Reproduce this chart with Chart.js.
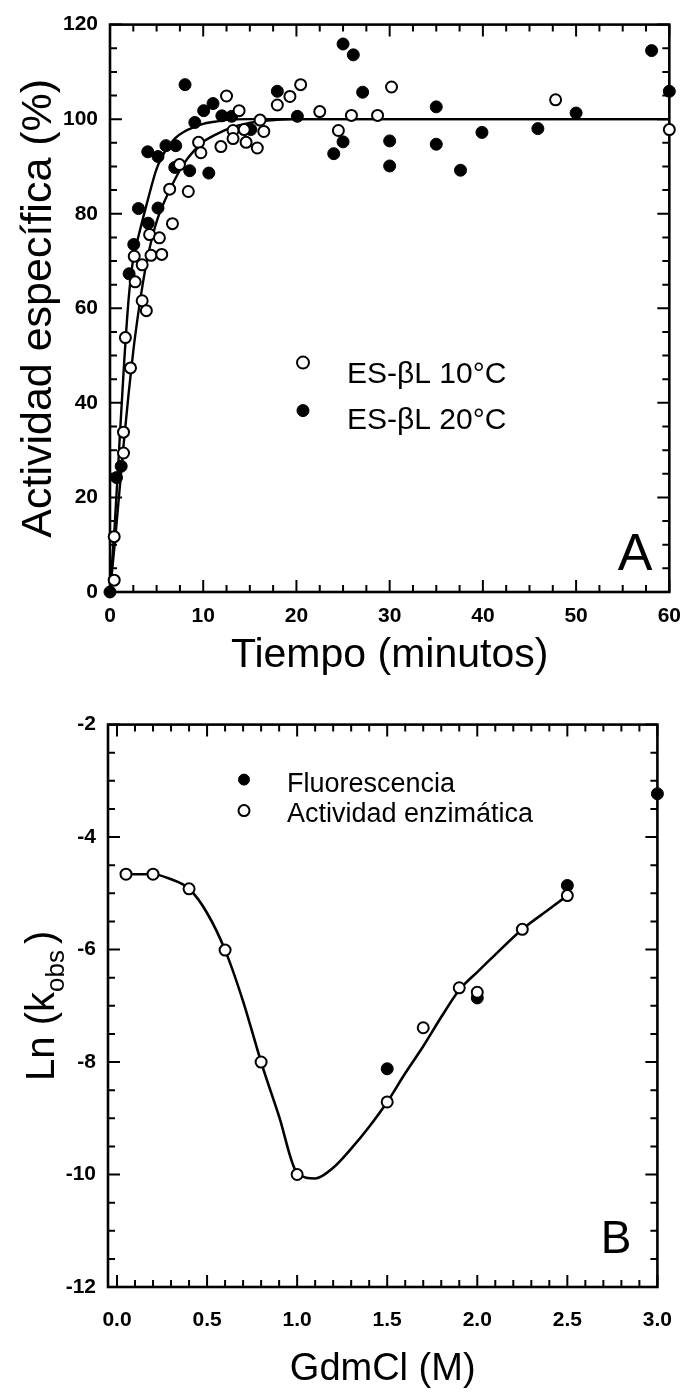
<!DOCTYPE html>
<html>
<head>
<meta charset="utf-8">
<script src="https://cdn.jsdelivr.net/npm/chart.js@4/dist/chart.umd.min.js"></script>
<style>
  html, body { margin: 0; padding: 0; background: #fff; }
  #wrap { position: relative; width: 693px; height: 1399px; }
  canvas { position: absolute; left: 0; }
  #chartA { top: 0; }
  #chartB { top: 700px; }
</style>
</head>
<body>
<div id="wrap">
  <canvas id="chartA" width="693" height="700"></canvas>
  <canvas id="chartB" width="693" height="699"></canvas>
</div>
<script>
// ---------- Panel A: activity recovery vs time ----------
const timeTicks = [0, 10, 20, 30, 40, 50, 60];
const activityTicks = [0, 20, 40, 60, 80, 100, 120];

// ES-βL 10 °C  [minutes, % activity]
const open10C = [
  [0.45, 2.5], [0.45, 11.7], [1.45, 29.4], [1.45, 33.8], [1.65, 53.8], [2.2, 47.4],
  [2.7, 65.6], [2.6, 71.0], [3.45, 69.2], [3.45, 61.6], [3.9, 59.5], [4.25, 75.6],
  [4.4, 71.2], [5.3, 74.9], [5.55, 71.4], [6.7, 77.9], [6.4, 85.2], [7.45, 90.4],
  [8.4, 84.7], [9.5, 95.1], [9.75, 92.9], [11.9, 94.2], [12.5, 104.9], [13.2, 97.6],
  [13.2, 95.9], [13.85, 101.8], [14.4, 97.8], [14.6, 95.1], [15.8, 93.9], [16.1, 99.8],
  [16.5, 97.4], [17.95, 103.0], [19.3, 104.8], [20.45, 107.3], [22.5, 101.6], [24.5, 97.6],
  [25.9, 100.8], [28.7, 100.8], [30.2, 106.8], [47.8, 104.1], [60, 97.8]
];

// ES-βL 20 °C  [minutes, % activity]
const filled20C = [
  [0, 0], [0.7, 24.2], [1.2, 26.6], [2.05, 67.3], [2.55, 73.5], [3.05, 81.1], [4.1, 78.0],
  [4.05, 93.1], [5.15, 92.1], [5.15, 81.2], [6.0, 94.4], [7.05, 94.4], [6.95, 89.8],
  [8.05, 107.3], [8.55, 89.1], [9.1, 99.3], [10.05, 101.8], [10.6, 88.6], [11.05, 103.3],
  [12.0, 100.7], [13.05, 100.6], [15.1, 97.8], [17.95, 105.9], [20.1, 100.6], [24.0, 92.7],
  [25.0, 115.9], [25.0, 95.2], [26.1, 113.6], [27.1, 105.7], [30.0, 95.4], [30.0, 90.1],
  [35.0, 102.6], [35.0, 94.7], [37.6, 89.2], [39.9, 97.2], [45.9, 98.0], [50.0, 101.3],
  [58.1, 114.5], [60.0, 105.9]
];

// fitted recovery curves
const fit10C = [
  [0, 0], [0.5, 10], [1, 21], [1.5, 32], [2, 42], [2.5, 51], [3, 58.5], [3.5, 65],
  [4, 70.5], [5, 78.3], [6, 83.3], [7, 87.4], [8, 90.8], [9, 93.3], [10, 95.2],
  [11.5, 96.9], [13, 98.2], [14.5, 99], [16.5, 99.6], [18.5, 99.9], [20, 100], [60, 100]
];
const fit20C = [
  [0, 0], [0.5, 14], [1, 31], [1.5, 48], [2, 62], [2.5, 70.5], [3, 74.8], [4, 82.5],
  [5, 89.5], [6, 93.5], [7, 96], [8, 97.4], [9, 98.3], [10, 99], [11, 99.4], [12, 99.7],
  [13, 99.9], [15, 100], [60, 100]
];

// ---------- Panel B: ln(k_obs) vs GdmCl ----------
const gdmTicks = [0, 0.5, 1.0, 1.5, 2.0, 2.5, 3.0];
const lnkTicks = [-12, -10, -8, -6, -4, -2];

const gdmFluorescencia = [1.5, 2.0, 2.5, 3.0];
const lnkFluorescencia = [-8.12, -6.86, -4.86, -3.23];

const gdmActividad = [0.05, 0.2, 0.4, 0.6, 0.8, 1.0, 1.5, 1.7, 1.9, 2.0, 2.25, 2.5];
const lnkActividad = [-4.66, -4.66, -4.92, -6.01, -8.0, -10.0, -8.71, -7.39, -6.68, -6.76, -5.64, -5.04];

const gdmFit = [0.05, 0.2, 0.3, 0.4, 0.5, 0.6, 0.7, 0.8, 0.9, 1.0, 1.1, 1.2, 1.3, 1.4,
                1.5, 1.6, 1.7, 1.8, 1.9, 2.0, 2.1, 2.25, 2.4, 2.5];
const lnkFit = [-4.66, -4.66, -4.75, -4.92, -5.35, -6.01, -6.92, -8.0, -8.97, -9.97, -10.07, -9.88,
                -9.54, -9.15, -8.71, -8.2, -7.72, -7.2, -6.72, -6.4, -6.09, -5.64, -5.28, -5.04];

// ---------- helpers ----------
const FONT = "'Liberation Sans', Arial, Helvetica, sans-serif";
const pairs = arr => arr.map(([x, y]) => ({ x, y }));
const zip = (xs, ys) => xs.map((x, i) => ({ x, y: ys[i] }));

// box with inward ticks on all four sides
const frameTicks = {
  id: 'frameTicks',
  beforeDatasetsDraw(chart, args, o) {
    const { ctx, chartArea: a, scales: { x, y } } = chart;
    const each = (scale, minor, major, fn) => {
      const lo = Math.ceil(scale.min / minor - 1e-6), hi = Math.floor(scale.max / minor + 1e-6);
      for (let i = lo; i <= hi; i++) {
        const v = i * minor, r = v / major;
        fn(scale.getPixelForValue(v), Math.abs(r - Math.round(r)) < 1e-6 ? o.majorLen : o.minorLen);
      }
    };
    ctx.save();
    ctx.strokeStyle = '#000';
    ctx.lineWidth = o.tickWidth;
    ctx.beginPath();
    each(x, o.xMinor, o.xMajor, (p, len) => {
      ctx.moveTo(p, a.bottom); ctx.lineTo(p, a.bottom - len);
      ctx.moveTo(p, a.top); ctx.lineTo(p, a.top + len);
    });
    each(y, o.yMinor, o.yMajor, (p, len) => {
      ctx.moveTo(a.left, p); ctx.lineTo(a.left + len, p);
      ctx.moveTo(a.right, p); ctx.lineTo(a.right - len, p);
    });
    ctx.stroke();
    ctx.lineWidth = o.frameWidth;
    ctx.strokeRect(a.left, a.top, a.right - a.left, a.bottom - a.top);
    ctx.restore();
  }
};

// in-plot legend, panel letter and an optional y title with subscript
const panelText = {
  id: 'panelText',
  afterDatasetsDraw(chart, args, o) {
    const { ctx, chartArea: a } = chart;
    ctx.save();
    ctx.fillStyle = '#000';
    ctx.textAlign = 'left';
    ctx.textBaseline = 'alphabetic';
    o.legend.forEach(item => {
      const ds = chart.data.datasets[item.dataset];
      const mx = a.left + item.mx, my = a.top + item.my;
      ctx.beginPath();
      ctx.arc(mx, my, item.r, 0, Math.PI * 2);
      ctx.fillStyle = ds.pointBackgroundColor;
      ctx.fill();
      ctx.lineWidth = ds.pointBorderWidth;
      ctx.strokeStyle = '#000';
      ctx.stroke();
      ctx.fillStyle = '#000';
      ctx.font = o.legendFont;
      ctx.fillText(ds.label, a.left + item.tx, a.top + item.ty);
    });
    ctx.font = o.letterFont;
    ctx.textAlign = 'right';
    ctx.fillText(o.letter, a.right - o.letterDx, a.bottom - o.letterDy);

    if (o.yTitle) {
      const t = o.yTitle;
      const cy = (a.top + a.bottom) / 2;
      ctx.translate(t.x, cy);
      ctx.rotate(-Math.PI / 2);
      ctx.textBaseline = 'alphabetic';
      ctx.textAlign = 'left';
      ctx.font = t.font;
      const w1 = ctx.measureText(t.main).width;
      const w3 = ctx.measureText(t.close).width;
      ctx.font = t.subFont;
      const w2 = ctx.measureText(t.sub).width;
      const total = w1 + w2 + t.gap + w3;
      let px = -total / 2;
      ctx.font = t.font;
      ctx.fillText(t.main, px, t.base);
      px += w1;
      ctx.font = t.subFont;
      ctx.fillText(t.sub, px, t.base + t.subDrop);
      px += w2 + t.gap;
      ctx.font = t.font;
      ctx.fillText(t.close, px, t.base);
    }
    ctx.restore();
  }
};

Chart.defaults.font.family = FONT;
Chart.defaults.color = '#000';

const tickFont = { family: FONT, size: 21, weight: 'bold' };

// ---------- Chart A ----------
new Chart(document.getElementById('chartA'), {
  type: 'scatter',
  data: {
    datasets: [
      { label: 'ES-βL 10°C', data: pairs(open10C), pointRadius: 5.5, pointBackgroundColor: '#fff',
        pointBorderColor: '#000', pointBorderWidth: 2, clip: false },
      { label: 'ES-βL 20°C', data: pairs(filled20C), pointRadius: 6, pointBackgroundColor: '#000',
        pointBorderColor: '#000', pointBorderWidth: 1, clip: false },
      { label: 'ajuste 10°C', data: pairs(fit10C), showLine: true, pointRadius: 0, borderColor: '#000',
        borderWidth: 2.4, cubicInterpolationMode: 'monotone', fill: false },
      { label: 'ajuste 20°C', data: pairs(fit20C), showLine: true, pointRadius: 0, borderColor: '#000',
        borderWidth: 2.4, cubicInterpolationMode: 'monotone', fill: false }
    ]
  },
  options: {
    responsive: false,
    animation: false,
    events: [],
    layout: { padding: { left: 0, right: 17, top: 20, bottom: 0 } },
    scales: {
      x: {
        type: 'linear', min: 0, max: 60,
        afterFit: s => { s.height = 108; },
        afterBuildTicks: s => { s.ticks = timeTicks.map(v => ({ value: v })); },
        grid: { display: false, drawTicks: false },
        border: { display: false },
        ticks: { font: tickFont, color: '#000', padding: 12, maxRotation: 0, autoSkip: false },
        title: { display: true, text: 'Tiempo (minutos)', color: '#000',
                 font: { family: FONT, size: 41 }, padding: { top: 0, bottom: 20 } }
      },
      y: {
        type: 'linear', min: 0, max: 120,
        afterFit: s => { s.width = 110; },
        afterBuildTicks: s => { s.ticks = activityTicks.map(v => ({ value: v })); },
        grid: { display: false, drawTicks: false },
        border: { display: false },
        ticks: { font: tickFont, color: '#000', padding: 12, autoSkip: false },
        title: { display: true, text: 'Actividad específica (%)', color: '#000',
                 font: { family: FONT, size: 43 }, padding: { top: 13, bottom: 0 } }
      }
    },
    plugins: {
      legend: { display: false },
      tooltip: { enabled: false },
      frameTicks: { xMinor: 2.5, xMajor: 10, yMinor: 5, yMajor: 20,
                    majorLen: 12, minorLen: 7, tickWidth: 2, frameWidth: 2.6 },
      panelText: {
        legend: [
          { dataset: 0, mx: 193, my: 338, r: 6, tx: 237, ty: 358 },
          { dataset: 1, mx: 193, my: 386, r: 6, tx: 237, ty: 404 }
        ],
        legendFont: `30px ${FONT}`,
        letter: 'A', letterFont: `52px ${FONT}`, letterDx: 17, letterDy: 22
      }
    }
  },
  plugins: [frameTicks, panelText]
});

// ---------- Chart B ----------
new Chart(document.getElementById('chartB'), {
  type: 'scatter',
  data: {
    datasets: [
      { label: 'Actividad enzimática', data: zip(gdmActividad, lnkActividad), pointRadius: 5.5,
        pointBackgroundColor: '#fff', pointBorderColor: '#000', pointBorderWidth: 2, clip: false },
      { label: 'Fluorescencia', data: zip(gdmFluorescencia, lnkFluorescencia), pointRadius: 6,
        pointBackgroundColor: '#000', pointBorderColor: '#000', pointBorderWidth: 1, clip: false },
      { label: 'ajuste', data: zip(gdmFit, lnkFit), showLine: true, pointRadius: 0, borderColor: '#000',
        borderWidth: 2.6, cubicInterpolationMode: 'monotone', fill: false }
    ]
  },
  options: {
    responsive: false,
    animation: false,
    events: [],
    layout: { padding: { left: 0, right: 17, top: 15, bottom: 0 } },
    scales: {
      x: {
        type: 'linear', min: -0.05, max: 3.0,
        afterFit: s => { s.height = 112; },
        afterBuildTicks: s => { s.ticks = gdmTicks.map(v => ({ value: v })); },
        grid: { display: false, drawTicks: false },
        border: { display: false },
        ticks: { font: tickFont, color: '#000', padding: 21, maxRotation: 0, autoSkip: false,
                 callback: v => Number(v).toFixed(1) },
        title: { display: true, text: 'GdmCl (M)', color: '#000',
                 font: { family: FONT, size: 38 }, padding: { top: 0, bottom: 7 } }
      },
      y: {
        type: 'linear', min: -12, max: -2,
        afterFit: s => { s.width = 108; },
        afterBuildTicks: s => { s.ticks = lnkTicks.map(v => ({ value: v })); },
        grid: { display: false, drawTicks: false },
        border: { display: false },
        ticks: { font: tickFont, color: '#000', padding: 12, autoSkip: false },
        title: { display: false }
      }
    },
    plugins: {
      legend: { display: false },
      tooltip: { enabled: false },
      frameTicks: { xMinor: 0.1, xMajor: 0.5, yMinor: 0.5, yMajor: 2,
                    majorLen: 12, minorLen: 7, tickWidth: 2, frameWidth: 2.6 },
      panelText: {
        legend: [
          { dataset: 1, mx: 136, my: 55, r: 5.5, tx: 179, ty: 67 },
          { dataset: 0, mx: 136, my: 86, r: 5.5, tx: 179, ty: 97 }
        ],
        legendFont: `27px ${FONT}`,
        letter: 'B', letterFont: `46px ${FONT}`, letterDx: 26, letterDy: 34,
        yTitle: { x: 40, base: 14, main: 'Ln (k', sub: 'obs', close: ')', gap: 6,
                  font: `40px ${FONT}`, subFont: `26px ${FONT}`, subDrop: 10 }
      }
    }
  },
  plugins: [frameTicks, panelText]
});
</script>
</body>
</html>
